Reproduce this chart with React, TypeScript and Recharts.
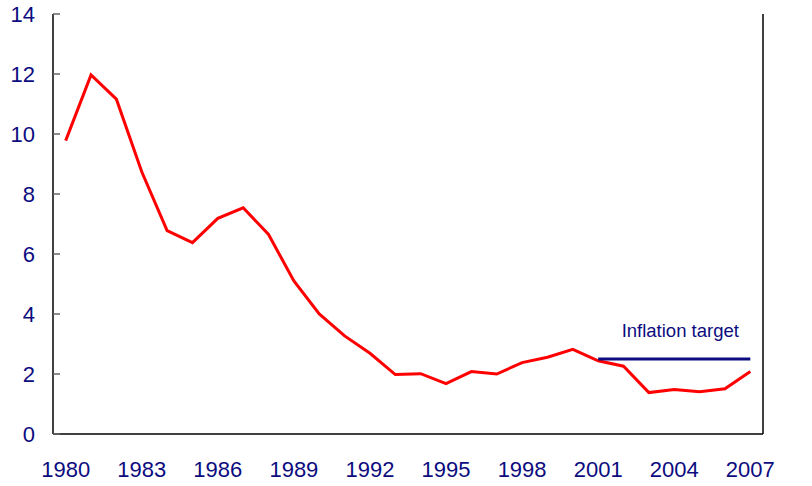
import React from 'react';
import { LineChart, Line, XAxis, YAxis, ReferenceDot, Label } from 'recharts';

const years = [
  1980, 1981, 1982, 1983, 1984, 1985, 1986, 1987, 1988, 1989,
  1990, 1991, 1992, 1993, 1994, 1995, 1996, 1997, 1998, 1999,
  2000, 2001, 2002, 2003, 2004, 2005, 2006, 2007,
];
const inflation = [
  9.78, 11.97, 11.16, 8.74, 6.78, 6.38, 7.19, 7.54, 6.65, 5.1,
  4.0, 3.27, 2.69, 1.98, 2.01, 1.68, 2.08, 2.0, 2.38, 2.56,
  2.82, 2.44, 2.26, 1.38, 1.48, 1.41, 1.51, 2.08,
];
const targetStartYear = 2001;
const targetValue = 2.5;
const xLabelTicks = [1980, 1983, 1986, 1989, 1992, 1995, 1998, 2001, 2004, 2007];
const xMarkTicks = [1982.5, 1985.5, 1988.5, 1991.5, 1994.5, 1997.5, 2000.5, 2003.5, 2006.5];
const yTicks = [0, 2, 4, 6, 8, 10, 12, 14];
const xDomain = [1979.5, 2007.5];

const data = years.map((y, i) => ({
  year: y,
  cpi: inflation[i],
  target: y >= targetStartYear ? targetValue : null,
}));

const NAVY = '#0c0c80';
const FONT = '"Liberation Sans", Arial, sans-serif';

export default function App() {
  const tickStyle = { fill: NAVY, fontSize: 22, fontFamily: FONT };
  return (
    <div style={{ position: 'absolute', left: 0, top: 0 }}>
      <LineChart
        width={812}
        height={486}
        data={data}
        margin={{ top: 14, right: 0, bottom: 22, left: 0 }}
      >
        <XAxis
          xAxisId="marks"
          dataKey="year"
          type="number"
          domain={xDomain}
          ticks={xMarkTicks}
          tick={false}
          tickSize={-7}
          tickLine={{ stroke: '#333', strokeWidth: 1.5 }}
          axisLine={false}
          height={0}
          allowDataOverflow
        />
        <XAxis
          xAxisId="top"
          orientation="top"
          dataKey="year"
          type="number"
          domain={xDomain}
          tick={false}
          tickLine={false}
          axisLine={{ stroke: '#333', strokeWidth: 1.5 }}
          height={0}
          allowDataOverflow
        />
        <XAxis
          xAxisId="main"
          dataKey="year"
          type="number"
          domain={xDomain}
          ticks={xLabelTicks}
          interval={0}
          tick={tickStyle}
          tickLine={false}
          tickSize={0}
          tickMargin={27}
          axisLine={{ stroke: '#000', strokeWidth: 1.5 }}
          height={30}
          allowDataOverflow
        />
        <YAxis
          yAxisId="left"
          domain={[0, 14]}
          ticks={yTicks}
          interval={0}
          tick={tickStyle}
          tickSize={-7}
          tickMargin={25}
          tickLine={{ stroke: '#666', strokeWidth: 1.5 }}
          axisLine={{ stroke: '#000', strokeWidth: 1.5 }}
          width={53}
        />
        <YAxis
          yAxisId="right"
          orientation="right"
          domain={[0, 14]}
          ticks={yTicks}
          interval={0}
          tick={{ ...tickStyle, textAnchor: 'start' }}
          tickSize={-7}
          tickMargin={25}
          tickLine={{ stroke: '#666', strokeWidth: 1.5 }}
          axisLine={{ stroke: '#000', strokeWidth: 1.5 }}
          width={49}
        />
        <Line
          xAxisId="main"
          yAxisId="left"
          type="linear"
          dataKey="cpi"
          stroke="#ff0000"
          strokeWidth={3}
          dot={false}
          isAnimationActive={false}
        />
        <Line
          xAxisId="main"
          yAxisId="left"
          type="linear"
          dataKey="target"
          stroke={NAVY}
          strokeWidth={3}
          dot={false}
          connectNulls={false}
          isAnimationActive={false}
        />
        <ReferenceDot
          xAxisId="main"
          yAxisId="left"
          x={2004}
          y={targetValue}
          r={0}
          fill="none"
          stroke="none"
          ifOverflow="visible"
        >
          <Label
            value="Inflation target"
            position="top"
            offset={22}
            dx={6}
            fill={NAVY}
            fontSize={18.5}
            fontFamily={FONT}
          />
        </ReferenceDot>
      </LineChart>
    </div>
  );
}
